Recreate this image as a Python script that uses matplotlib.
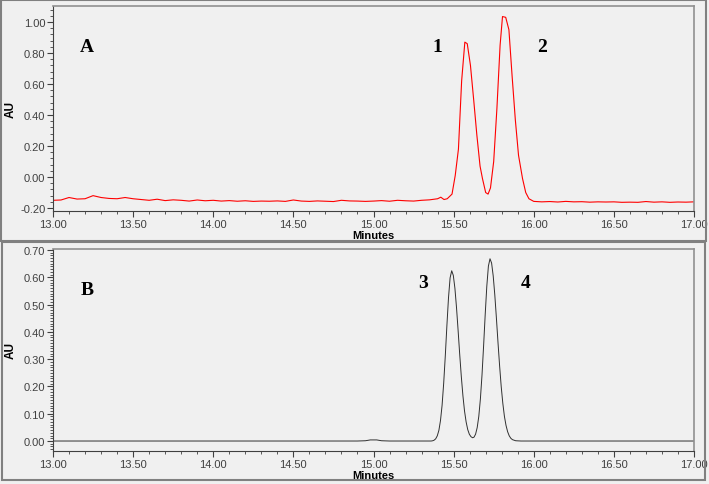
import matplotlib
matplotlib.use("Agg")
import matplotlib.pyplot as plt
from matplotlib.patches import Rectangle
from matplotlib.ticker import MultipleLocator, FormatStrFormatter

# --- panel A (red trace) ---
t_a = [13.00, 13.05, 13.10, 13.15, 13.20, 13.25, 13.30, 13.35, 13.40, 13.45,
       13.50, 13.55, 13.60, 13.65, 13.70, 13.75, 13.80, 13.85, 13.90, 13.95,
       14.00, 14.05, 14.10, 14.15, 14.20, 14.25, 14.30, 14.35, 14.40, 14.45,
       14.50, 14.55, 14.60, 14.65, 14.70, 14.75, 14.80, 14.85, 14.90, 14.95,
       15.00, 15.05, 15.10, 15.15, 15.20, 15.25, 15.30, 15.35, 15.40,
       15.42, 15.44, 15.46, 15.49, 15.51, 15.53, 15.55, 15.57, 15.585, 15.605,
       15.625, 15.645, 15.665, 15.68, 15.70, 15.715, 15.73, 15.75, 15.77, 15.79,
       15.805, 15.825, 15.845, 15.865, 15.885, 15.905, 15.93, 15.95, 15.97, 16.00,
       16.05, 16.10, 16.15, 16.20, 16.25, 16.30, 16.35, 16.40, 16.45, 16.50,
       16.55, 16.60, 16.65, 16.70, 16.75, 16.80, 16.85, 16.90, 16.95, 17.00]
au_a = [-0.150, -0.148, -0.132, -0.142, -0.140, -0.120, -0.132, -0.138, -0.140, -0.132,
        -0.140, -0.145, -0.150, -0.143, -0.152, -0.147, -0.150, -0.155, -0.148, -0.153,
        -0.150, -0.155, -0.152, -0.156, -0.153, -0.157, -0.155, -0.156, -0.154, -0.157,
        -0.148, -0.155, -0.157, -0.154, -0.156, -0.158, -0.150, -0.154, -0.155, -0.157,
        -0.155, -0.152, -0.156, -0.150, -0.153, -0.155, -0.150, -0.147, -0.140,
        -0.130, -0.145, -0.140, -0.110, 0.010, 0.180, 0.620, 0.870, 0.860, 0.720,
        0.500, 0.270, 0.070, -0.010, -0.100, -0.110, -0.070, 0.100, 0.440, 0.850,
        1.035, 1.030, 0.950, 0.650, 0.370, 0.140, -0.010, -0.100, -0.140, -0.157,
        -0.160, -0.158, -0.161, -0.157, -0.160, -0.159, -0.162, -0.160, -0.161, -0.160,
        -0.163, -0.162, -0.163, -0.158, -0.162, -0.160, -0.163, -0.161, -0.162, -0.160]

# --- panel B (black trace) ---
t_b = [13.00, 14.90, 14.95, 14.98, 15.02, 15.05, 15.10, 15.36, 15.37, 15.378,
       15.388, 15.398, 15.408, 15.418, 15.428, 15.438, 15.448, 15.458, 15.468, 15.478,
       15.488, 15.498, 15.508, 15.518, 15.528, 15.538, 15.548, 15.558, 15.568, 15.578,
       15.588, 15.598, 15.608, 15.618, 15.627, 15.637, 15.647, 15.657, 15.667, 15.677,
       15.687, 15.697, 15.707, 15.717, 15.727, 15.737, 15.747, 15.757, 15.767, 15.777,
       15.787, 15.797, 15.807, 15.817, 15.827, 15.837, 15.847, 15.857, 15.867, 15.887,
       15.92, 17.00]
au_b = [0.0, 0.0, 0.001, 0.004, 0.004, 0.001, 0.0, 0.0, 0.001, 0.003,
        0.008, 0.019, 0.039, 0.075, 0.131, 0.212, 0.312, 0.423, 0.525, 0.598,
        0.624, 0.607, 0.560, 0.489, 0.405, 0.317, 0.236, 0.166, 0.110, 0.070,
        0.042, 0.025, 0.016, 0.012, 0.014, 0.025, 0.049, 0.090, 0.154, 0.241,
        0.348, 0.463, 0.567, 0.641, 0.668, 0.652, 0.605, 0.535, 0.450, 0.360,
        0.275, 0.199, 0.138, 0.090, 0.057, 0.034, 0.019, 0.010, 0.005, 0.001,
        0.0, 0.0]

peak_labels_a = ["1", "2"]
peak_pos_a = [(15.40, 0.845), (16.05, 0.845)]
peak_labels_b = ["3", "4"]
peak_pos_b = [(15.31, 0.58), (15.95, 0.58)]

bg = "#f0f0f0"
plt.rcParams["font.family"] = ["Liberation Sans", "DejaVu Sans"]

fig = plt.figure(figsize=(7.09, 4.85), dpi=100, facecolor=bg)
W, H = 709, 485

# outer panel frames
for (x0, y0, x1, y1) in [(1, 1, 706, 242), (2, 243, 705, 481)]:
    fig.add_artist(Rectangle((x0 / W, 1 - y1 / H), (x1 - x0) / W, (y1 - y0) / H,
                             transform=fig.transFigure, fill=False,
                             edgecolor="#808080", lw=1.5))

ax1 = fig.add_axes([53 / W, 1 - 212 / H, 641 / W, 205 / H], facecolor=bg)
ax2 = fig.add_axes([53 / W, 1 - 452 / H, 641 / W, 202 / H], facecolor=bg)

ax1.plot(t_a, au_a, color="#ff0000", lw=0.8)
ax2.plot(t_b, au_b, color="#303030", lw=0.7)

ax1.set_ylim(-0.219, 1.103)
ax2.set_ylim(-0.0366, 0.7037)
ax1.yaxis.set_major_locator(MultipleLocator(0.2))
ax1.yaxis.set_minor_locator(MultipleLocator(0.04))
ax2.yaxis.set_major_locator(MultipleLocator(0.1))
ax2.yaxis.set_minor_locator(MultipleLocator(0.01))

for ax in (ax1, ax2):
    ax.set_xlim(13, 17)
    ax.xaxis.set_major_locator(MultipleLocator(0.5))
    ax.xaxis.set_minor_locator(MultipleLocator(0.1))
    ax.xaxis.set_major_formatter(FormatStrFormatter("%.2f"))
    ax.yaxis.set_major_formatter(FormatStrFormatter("%.2f"))
    ax.tick_params(which="major", length=4, width=0.8, labelsize=8,
                   labelcolor="#404040", color="#404040", pad=1.5)
    ax.tick_params(which="minor", length=2.5, width=0.6, color="#404040")
    for s in ("left", "bottom"):
        ax.spines[s].set_color("#404040")
    for s in ("top", "right"):
        ax.spines[s].set_color("#909090")
        ax.spines[s].set_linewidth(1.2)
    ax.set_xlabel("Minutes", fontsize=8, fontweight="bold", labelpad=1)
    ax.set_ylabel("AU", fontsize=8.5, fontweight="bold")
    ax.yaxis.set_label_coords(-0.057, 0.5)

serif = dict(family=["Liberation Serif", "DejaVu Serif"], fontweight="bold",
             fontsize=14, ha="center", va="center")
ax1.text(13.21, 0.84, "A", **serif)
ax2.text(13.21, 0.557, "B", **serif)
for lab, (x, y) in zip(peak_labels_a, peak_pos_a):
    ax1.text(x, y, lab, **serif)
for lab, (x, y) in zip(peak_labels_b, peak_pos_b):
    ax2.text(x, y, lab, **serif)

fig.savefig("out.png", dpi=100, facecolor=bg)
